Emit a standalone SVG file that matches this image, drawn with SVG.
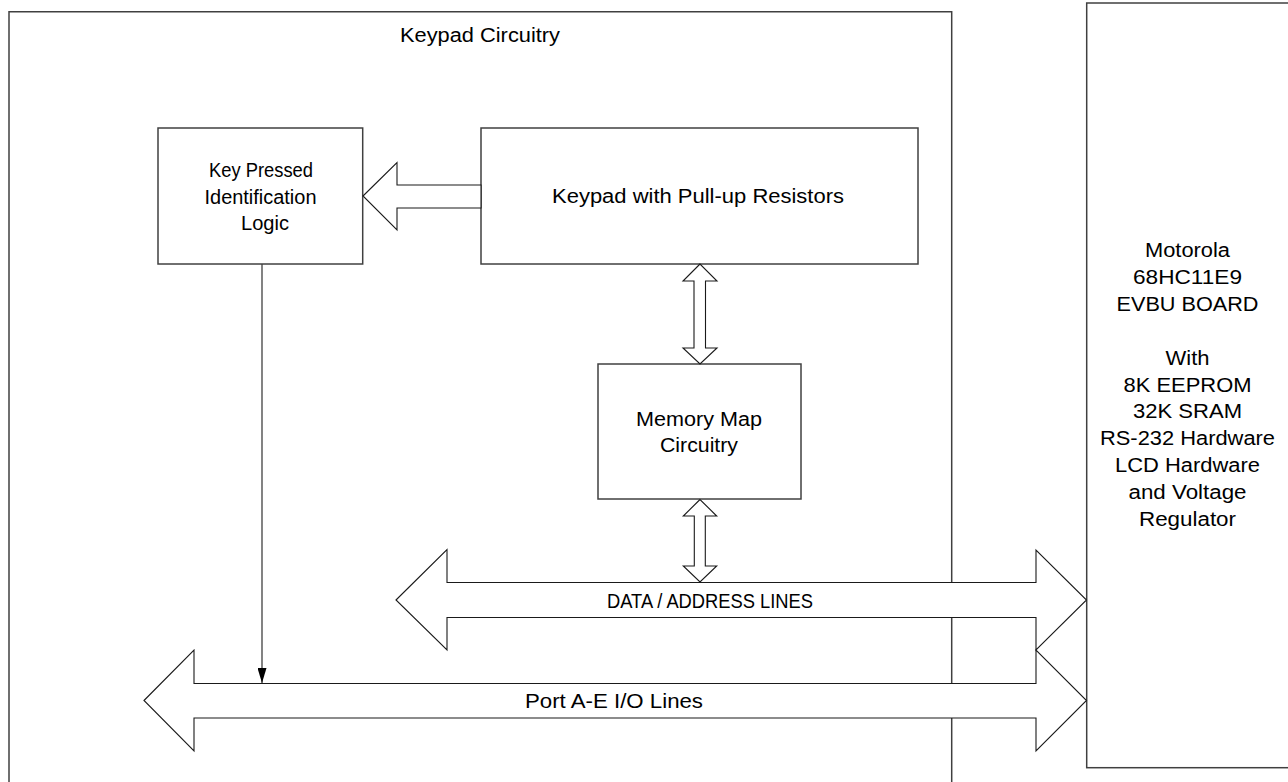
<svg xmlns="http://www.w3.org/2000/svg" width="1288" height="782" viewBox="0 0 1288 782">
<style>
.box{fill:#fff;stroke:#404040;stroke-width:1.5}
.frame{fill:none;stroke:#404040;stroke-width:1.5}
.bus{fill:#fff;stroke:#1a1a1a;stroke-width:1.1;stroke-linejoin:miter}
.lbl{font-family:"Liberation Sans",Arial,sans-serif;font-size:19.5px;fill:#000;text-anchor:middle}
.wire{stroke:#404040;stroke-width:1.3;fill:none}
</style>
<defs>
<marker id="ah" markerWidth="15" markerHeight="9" refX="15" refY="4.5" orient="auto" markerUnits="userSpaceOnUse" viewBox="0 0 15 9">
<path d="M0,0 L15,4.5 L0,9 Z" fill="#000"/>
</marker>
</defs>
<rect width="1288" height="782" fill="#fff"/>
<g id="keypad-circuitry">
<path class="frame" d="M9,782 V11.7 H951.7 V782"/>
<text class="lbl" x="480" y="42" textLength="160" lengthAdjust="spacingAndGlyphs">Keypad Circuitry</text>
</g>
<g id="evbu-board">
<rect class="box" x="1086.7" y="3" width="260" height="764.7"/>
<text class="lbl" x="1187.5" y="257" textLength="85" lengthAdjust="spacingAndGlyphs">Motorola</text>
<text class="lbl" x="1187.5" y="284" textLength="109" lengthAdjust="spacingAndGlyphs">68HC11E9</text>
<text class="lbl" x="1187.5" y="311" textLength="142" lengthAdjust="spacingAndGlyphs">EVBU BOARD</text>
<text class="lbl" x="1187.5" y="365" textLength="44" lengthAdjust="spacingAndGlyphs">With</text>
<text class="lbl" x="1187.5" y="391.5" textLength="128" lengthAdjust="spacingAndGlyphs">8K EEPROM</text>
<text class="lbl" x="1187.5" y="417.5" textLength="109" lengthAdjust="spacingAndGlyphs">32K SRAM</text>
<text class="lbl" x="1187.5" y="444.5" textLength="175" lengthAdjust="spacingAndGlyphs">RS-232 Hardware</text>
<text class="lbl" x="1187.5" y="471.5" textLength="145" lengthAdjust="spacingAndGlyphs">LCD Hardware</text>
<text class="lbl" x="1187.5" y="498.5" textLength="118" lengthAdjust="spacingAndGlyphs">and Voltage</text>
<text class="lbl" x="1187.5" y="526" textLength="97" lengthAdjust="spacingAndGlyphs">Regulator</text>
</g>
<g id="key-pressed-logic">
<rect class="box" x="158" y="128" width="204.7" height="136"/>
<text class="lbl" x="261" y="177" textLength="104" lengthAdjust="spacingAndGlyphs">Key Pressed</text>
<text class="lbl" x="260.5" y="204" textLength="112" lengthAdjust="spacingAndGlyphs">Identification</text>
<text class="lbl" x="265" y="230" textLength="48" lengthAdjust="spacingAndGlyphs">Logic</text>
</g>
<g id="keypad">
<rect class="box" x="481" y="128" width="437" height="136"/>
<text class="lbl" x="698" y="203" textLength="292" lengthAdjust="spacingAndGlyphs">Keypad with Pull-up Resistors</text>
</g>
<g id="memory-map">
<rect class="box" x="598" y="364" width="203" height="135"/>
<text class="lbl" x="699" y="426" textLength="126" lengthAdjust="spacingAndGlyphs">Memory Map</text>
<text class="lbl" x="699" y="452" textLength="78" lengthAdjust="spacingAndGlyphs">Circuitry</text>
</g>
<g id="connectors">
<polygon class="bus" points="363,196 397,162.5 397,185 481,185 481,208 397,208 397,230"/>
<polygon class="bus" points="700,264 683,281 694,281 694,348 683,348 700,364 717,348 705.5,348 705.5,281 717,281"/>
<polygon class="bus" points="700,499.5 683.3,516 694.3,516 694.3,566 683.3,566 700,582 716.7,566 705.3,566 705.3,516 716.7,516"/>
<g id="data-address-bus">
<polygon class="bus" points="396,600 447,549.5 447,582.5 1036,582.5 1036,550 1086.5,600 1036,650 1036,617.5 447,617.5 447,650"/>
<text class="lbl" x="710" y="608" textLength="206" lengthAdjust="spacingAndGlyphs">DATA / ADDRESS LINES</text>
</g>
<g id="port-bus">
<polygon class="bus" points="144,700.5 194,650 194,683.5 1036,683.5 1036,650 1086.5,700.5 1036,751 1036,718 194,718 194,751"/>
<text class="lbl" x="614" y="708" textLength="178" lengthAdjust="spacingAndGlyphs">Port A-E I/O Lines</text>
</g>
<line class="wire" x1="262" y1="264" x2="262" y2="683" marker-end="url(#ah)"/>
</g>
</svg>
